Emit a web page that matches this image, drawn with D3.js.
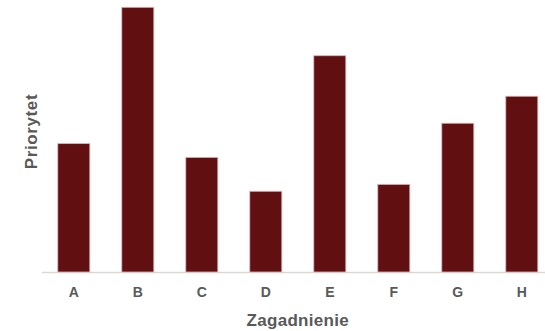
<!DOCTYPE html>
<html>
<head>
<meta charset="utf-8">
<script src="https://cdn.jsdelivr.net/npm/d3@7"></script>
<style>
  body { margin: 0; background: #fff; }
  svg text { font-family: "Liberation Sans", Arial, sans-serif; font-weight: bold; fill: #595959; }
</style>
</head>
<body>
<div id="chart"></div>
<script>
// data
const categories = ["A", "B", "C", "D", "E", "F", "G", "H"];
const values = [4.85, 10, 4.33, 3.05, 8.17, 3.31, 5.62, 6.64];

const width = 545, height = 331;
const margin = { top: 7.3, left: 41.8, bottom: 59 };

const svg = d3.select("#chart").append("svg")
  .attr("width", width)
  .attr("height", height);

const x = d3.scaleBand()
  .domain(categories)
  .range([margin.left, margin.left + 512])
  .paddingInner(0.5)
  .paddingOuter(0.25);

const y = d3.scaleLinear()
  .domain([0, 10])
  .range([height - margin.bottom, margin.top]);

// baseline
svg.append("line")
  .attr("x1", margin.left)
  .attr("x2", width)
  .attr("y1", y(0) + 0.5)
  .attr("y2", y(0) + 0.5)
  .attr("stroke", "#d9d9d9")
  .attr("stroke-width", 1.5);

svg.selectAll("rect.bar")
  .data(values)
  .join("rect")
  .attr("class", "bar")
  .attr("x", (d, i) => x(categories[i]))
  .attr("y", d => y(d))
  .attr("width", x.bandwidth())
  .attr("height", d => y(0) - y(d))
  .attr("fill", "#620f12")
  .attr("stroke", "#d8b4b4")
  .attr("stroke-width", 0.8);

// x labels
svg.selectAll("text.xlab")
  .data(categories)
  .join("text")
  .attr("class", "xlab")
  .attr("x", d => x(d) + x.bandwidth() / 2)
  .attr("y", 297)
  .attr("text-anchor", "middle")
  .style("font-size", "14px")
  .text(d => d);

// axis titles
svg.append("text")
  .attr("x", margin.left + 256)
  .attr("y", 326)
  .attr("text-anchor", "middle")
  .style("font-size", "17px")
  .style("letter-spacing", "0.3px")
  .text("Zagadnienie");

svg.append("text")
  .attr("transform", "translate(37,131.5) rotate(-90)")
  .attr("text-anchor", "middle")
  .style("font-size", "17px")
  .style("letter-spacing", "0.6px")
  .text("Priorytet");
</script>
</body>
</html>
